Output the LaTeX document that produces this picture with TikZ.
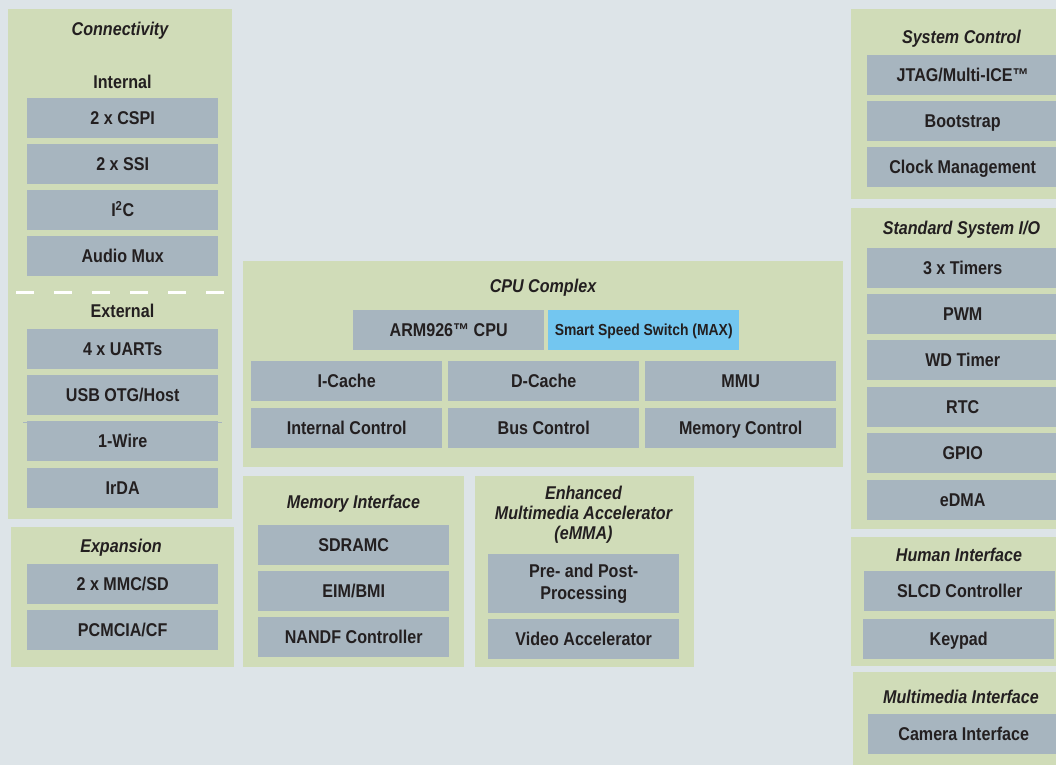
\documentclass[tikz,border=0pt]{standalone}
\usepackage{fontspec}
\setmainfont{Liberation Sans}[FakeStretch=0.87]
\definecolor{bgcol}{RGB}{221,228,232}
\definecolor{pnlgreen}{RGB}{208,220,184}
\definecolor{blkgrey}{RGB}{167,181,191}
\definecolor{maxblue}{RGB}{115,198,240}
\definecolor{ink}{RGB}{35,31,32}

\begin{document}
\begin{tikzpicture}[x=1pt, y=-1pt,
  panel/.style={fill=pnlgreen},
  boxbase/.style={fill=blkgrey, anchor=north west, minimum width=191pt, minimum height=40pt, inner sep=0pt, text=ink, font=\bfseries\fontsize{18.5}{22}\selectfont},
  blk/.style={boxbase, text height=13pt, text depth=0pt},
  ttl/.style={text=ink, inner sep=0pt, font=\bfseries\itshape\fontsize{18.5}{20}\selectfont},
  sub/.style={text=ink, inner sep=0pt, text height=13pt, text depth=0pt, font=\bfseries\fontsize{18.5}{20}\selectfont}]
  % background
  \useasboundingbox (0,0) rectangle (1056,765);
  \fill[bgcol] (0,0) rectangle (1056,765);
  % panels
  \fill[panel] (8,9) rectangle (232,519);
  \fill[panel] (11,527) rectangle (234,667);
  \fill[panel] (243,261) rectangle (843,467);
  \fill[panel] (243,476) rectangle (464,667);
  \fill[panel] (475,476) rectangle (694,667);
  \fill[panel] (851,9) rectangle (1056,199);
  \fill[panel] (851,208) rectangle (1056,529);
  \fill[panel] (851,537) rectangle (1056,666);
  \fill[panel] (853,672) rectangle (1056,765);
  % connectivity
  \node[ttl] (conn) at (120,31) {Connectivity};
  \node[sub] (int) at (122.5,82) {Internal};
  \node[blk] (cspi) at (27,98) {2 x CSPI};
  \node[blk] (ssi) at (27,144) {2 x SSI};
  \node[blk] (iic) at (27,190) {I\textsuperscript{2}C};
  \node[blk] (amux) at (27,236) {Audio Mux};
  \draw[white, line width=3pt, dash pattern=on 18pt off 20pt] (16,292) -- (227,292);
  \node[sub] (ext) at (122.5,311) {External};
  \node[blk] (uart) at (27,329) {4 x UARTs};
  \node[blk] (usb) at (27,375) {USB OTG/Host};
  \draw[blkgrey, line width=1pt] (23,422) -- (222,422);
  \node[blk] (wire) at (27,421) {1-Wire};
  \node[blk] (irda) at (27,468) {IrDA};
  % expansion
  \node[ttl] (expn) at (121,548) {Expansion};
  \node[blk] (mmc) at (27,564) {2 x MMC/SD};
  \node[blk] (pcm) at (27,610) {PCMCIA/CF};
  % cpu complex
  \node[ttl] (cpu) at (543,288) {CPU Complex};
  \node[blk] (arm) at (353,310) {ARM926™ CPU};
  \node[blk, fill=maxblue, text height=11.5pt, font=\bfseries\fontsize{16}{18}\selectfont] (max) at (548,310) {Smart Speed Switch (MAX)};
  \node[blk] (icache) at (251,361) {I-Cache};
  \node[blk] (dcache) at (448,361) {D-Cache};
  \node[blk] (mmu) at (645,361) {MMU};
  \node[blk] (intc) at (251,408) {Internal Control};
  \node[blk] (busc) at (448,408) {Bus Control};
  \node[blk] (memc) at (645,408) {Memory Control};
  % memory interface
  \node[ttl] (memif) at (353.5,504) {Memory Interface};
  \node[blk] (sdram) at (258,525) {SDRAMC};
  \node[blk] (eim) at (258,571) {EIM/BMI};
  \node[blk] (nand) at (258,617) {NANDF Controller};
  % emma
  \node[ttl, align=center] (emma) at (583.5,515) {Enhanced\\Multimedia Accelerator\\(eMMA)};
  \node[boxbase, minimum height=59pt, align=center] (prepost) at (488,554) {Pre- and Post-\\Processing};
  \node[blk] (video) at (488,619) {Video Accelerator};
  % system control
  \node[ttl] (sysc) at (961.5,39) {System Control};
  \node[blk] (jtag) at (867,55) {JTAG/Multi-ICE™};
  \node[blk] (boot) at (867,101) {Bootstrap};
  \node[blk] (clk) at (867,147) {Clock Management};
  % standard system io
  \node[ttl] (stdio) at (961.5,230) {Standard System I/O};
  \node[blk] (tmr) at (867,248) {3 x Timers};
  \node[blk] (pwm) at (867,294) {PWM};
  \node[blk] (wdt) at (867,340) {WD Timer};
  \node[blk] (rtc) at (867,387) {RTC};
  \node[blk] (gpio) at (867,433) {GPIO};
  \node[blk] (edma) at (867,480) {eDMA};
  % human interface
  \node[ttl] (hmi) at (959,555) {Human Interface};
  \node[blk] (slcd) at (864,571) {SLCD Controller};
  \node[blk] (kpd) at (863,619) {Keypad};
  % multimedia interface
  \node[ttl] (mmif) at (961,697) {Multimedia Interface};
  \node[blk] (cam) at (868,714) {Camera Interface};
\end{tikzpicture}
\end{document}
